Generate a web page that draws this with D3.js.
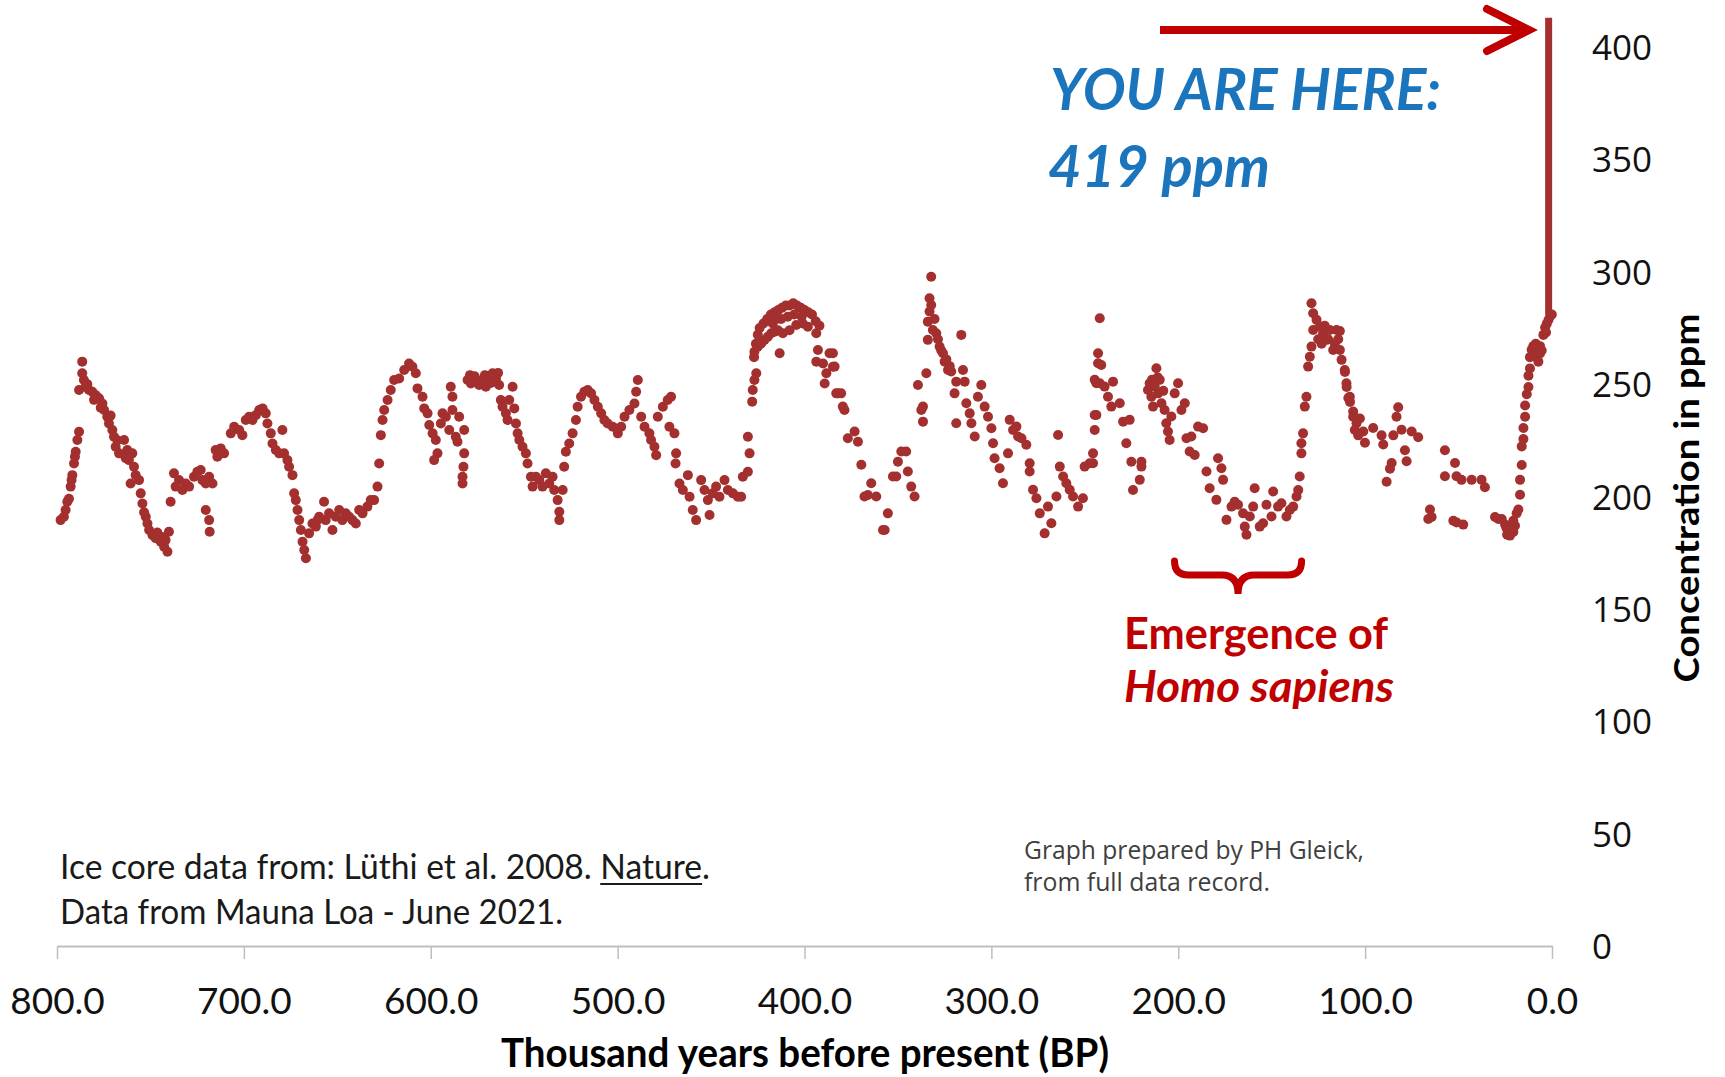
<!DOCTYPE html>
<html><head><meta charset="utf-8">
<script src="https://cdn.jsdelivr.net/npm/d3@7"></script>
<style>body{margin:0;background:#fff}svg{display:block}</style>
</head><body>
<svg id="chart" width="1725" height="1077"></svg>
<script>
// ---- data: [age (thousand years BP), CO2 (ppm)] ----
const cycle800to740 = [[798.1,189.5],[796.3,191],[795.4,194],[794.5,197.7],[793.6,199],[792.7,204.4],[792.2,207.3],[791.8,209.5],[790.9,214.7],[790.4,217.7],[790.0,219.9],[789.1,225.1],[788.2,228.8],[788.2,247.4],[786.5,260],[786.5,254.8],[785.6,251.8],[784.7,248.8],[783.8,250],[782.9,247.4],[781.1,246.6],[780.2,243],[779.3,245.1],[777.5,243.7],[776.6,239.5],[775.7,241.4],[774.8,238.5],[773.1,235.5],[772.2,232.5],[771.3,236],[770.4,229.6],[769.5,226.6],[768.6,222.1],[767.7,225],[766.8,219.2],[764.1,225.1],[763.2,217],[762.4,220.7],[761.5,216.2],[759.7,219.2],[758.8,213.2],[757.9,209.5],[760.6,205.8],[756.1,207.3],[755.2,201.4],[754.3,196.9],[753.4,193],[752.5,191],[751.6,188],[750.7,185.1],[748.9,182.8],[747.2,181.4],[746.3,184],[744.5,179.9],[743.6,182],[742.7,177.7],[740.9,175.4],[740.1,184.3],[741.9,180.6]];
const cycle740to660 = [[739.2,197.7],[737.4,210.3],[736.5,204.4],[734.7,207.3],[732.9,202.9],[731.1,205.8],[729.3,204.4],[726.7,208.8],[724.9,211],[723.1,211.8],[722.2,207.3],[720.4,205.8],[718.6,208.8],[716.8,205.8],[720.4,194],[718.6,189.5],[718.3,184.3],[715.1,220.7],[712.4,221.4],[710.6,219.2],[714.2,217.7],[707.0,228.1],[705.2,231],[702.5,229.6],[700.8,227.3],[699.0,234],[697.2,235.5],[695.4,234],[693.6,236.2],[691.8,238.5],[690.0,239.2],[688.3,237],[687.4,232.5],[685.6,228.1],[684.7,223.6],[682.9,220.7],[681.1,219.2],[679.4,229.6],[678.5,219.2],[676.7,216.2],[675.8,213.2],[674.0,209.5],[673.1,201.4],[672.2,198.4],[671.3,194],[670.4,189.5],[669.5,185.1],[668.6,179.9],[667.7,176.2],[666.8,172.5],[663.3,188],[660.6,189.5]];
const cycle665to520 = [[665.1,183.6],[661.5,186.6],[659.7,191],[657.1,197.7],[656.2,189.5],[654.4,192.5],[652.6,185.1],[650.8,191],[649.0,194],[647.3,189.5],[645.5,192.5],[643.7,191],[641.9,189.5],[640.1,188],[638.3,194],[636.5,192.5],[633.9,195.5],[632.1,198.4],[630.3,198.4],[628.5,204.4],[627.6,214.7],[626.7,227.3],[625.8,234],[624.9,238.5],[623.1,242.9],[621.4,247.4],[619.6,251.8],[616.9,252.5],[614.2,256.3],[611.6,259.2],[609.8,257.7],[608.0,254.8],[607.1,248.1],[604.4,244.4],[603.5,239.2],[601.7,237],[600.8,231.8],[599.0,228.1],[597.3,225.1],[598.2,216.2],[596.4,219.2],[594.6,232.5],[593.7,237],[591.9,235.5],[590.1,229.6],[589.3,248.8],[588.4,244.4],[586.6,226.6],[585.7,224.4],[588.4,238.5],[584.8,235.5],[582.1,229.6],[582.1,219.2],[582.5,213.2],[583.0,208.8],[583.0,205.8],[580.3,251.8],[579.0,254],[578.5,250.3],[577.6,252.5],[576.5,253.5],[575.8,251.1],[574.1,249.6],[572.3,251.8],[571.0,254],[570.5,248.8],[568.7,253.3],[567.8,250.5],[566.9,254.8],[565.1,252.5],[564.0,255],[563.4,249.6],[562.5,242.9],[561.6,239.9],[559.8,237],[558.9,234],[558.0,242.9],[556.2,248.8],[555.3,239.2],[554.4,232.5],[553.5,228.1],[552.6,225.1],[550.9,222.1],[549.1,219.2],[548.2,214.7],[546.4,208.8],[545.5,204.4],[543.7,208.8],[541.9,207.3],[540.2,204.4],[538.4,210.3],[536.6,205.8],[534.8,208.8],[533.9,202.9],[532.1,198.4],[531.2,193.2],[531.2,189.5],[529.4,202.9],[528.6,213.2],[527.7,219.9],[525.9,223.6],[524.1,228.1],[522.3,234],[521.4,239.9]];
const cycle520to426 = [[519.6,244.4],[517.8,246.6],[516.0,247.4],[514.2,245.9],[512.4,242.9],[510.6,239.9],[508.8,237],[507.1,234],[505.3,232.5],[502.6,231],[499.9,228.1],[498.1,231],[496.3,235.5],[493.7,238.5],[491.0,241.4],[490.1,246.6],[489.2,251.8],[487.4,235.5],[485.6,231],[483.0,228.1],[482.1,225.1],[480.3,222.1],[479.4,218.4],[478.5,235.5],[475.8,239.9],[473.2,242.9],[471.4,244.4],[472.3,231],[469.6,228.1],[468.7,219.2],[469.0,214.7],[466.9,205.8],[465.1,202.9],[462.4,209.5],[461.5,199.9],[459.8,194],[458.0,189.5],[455.3,207.3],[453.5,202.9],[451.7,198.4],[450.8,191.8],[449.1,201.4],[447.3,204.4],[445.5,199.9],[442.8,207.3],[441.0,202.9],[438.3,201.4],[435.7,199.9],[433.9,199.9],[433.0,208.8],[430.3,211],[429.4,219.2],[430.3,226.6],[428.0,242.2],[427.7,247.4],[426.8,251.8],[425.8,254.8]];
const cycle427to383 = [[427.0,262],[426.8,264.4],[426.0,268],[425.0,266.6],[425.0,272],[424.0,275],[423.2,268.1],[422.0,277],[421.4,269.6],[420.0,279],[419.6,271.1],[418.0,281],[417.8,272.6],[417.0,277],[416.0,282],[416.0,273.3],[415.0,279],[414.2,274],[414.0,283],[413.3,263.7],[412.5,279],[412.0,284],[411.6,272.6],[410.0,285],[409.0,280],[408.0,285],[408.0,274],[406.0,286],[405.5,281],[404.4,276.3],[404.0,285],[402.0,284],[401.5,280],[400.9,277],[400.0,283],[398.2,275.5],[398.0,282],[396.0,281],[394.0,278],[393.7,272.6],[392.8,265.2],[392.0,276],[393.7,260],[390.1,259.2],[388.3,254.8],[389.2,250.3],[386.6,263.7],[384.8,257.7],[383.0,245.9]];
const cycle385to242 = [[384.8,263.7],[383.9,257.8],[382.1,245.9],[380.4,245.9],[379.5,240],[378.6,238.5],[376.8,225.9],[373.2,228.9],[371.4,224.4],[369.6,214.1],[367.9,200],[366.1,200.7],[364.3,205.9],[361.6,200],[358.0,185.1],[357.1,185.1],[355.4,192.5],[352.7,208.9],[350.9,208.9],[350.0,215.5],[348.2,220],[345.6,220],[344.7,211.1],[342.9,204.4],[341.1,200],[339.3,249.6],[337.5,238.5],[336.6,240],[336.6,233.3],[334.8,254.8],[334.0,269.7],[334.0,277.8],[333.1,282.3],[333.1,288.2],[332.2,297.8],[332.2,285.2],[331.3,274.1],[330.4,279],[329.5,272.6],[328.6,270],[327.7,266.7],[326.8,265],[325.9,263.7],[325.0,260],[324.1,261],[323.2,256.3],[322.3,258],[321.5,255.6],[318.8,251.1],[319.7,245.9],[318.8,232.6],[316.1,271.9],[315.2,256.3],[314.3,251.1],[313.4,241.5],[311.6,237],[310.7,232.6],[308.9,226.7],[307.2,244.4],[305.4,249.6],[303.6,240],[301.8,235.5],[300.0,230.4],[299.1,223.7],[298.3,217],[295.6,212.6],[293.8,205.9],[291.1,219.2],[290.2,234.1],[288.4,229.6],[286.6,231.1],[285.7,226.7],[283.9,225.9],[281.3,223],[279.5,214.8],[279.5,211.1],[277.7,203],[275.9,199.2],[274.1,192.5],[271.5,183.6],[269.7,195.5],[267.9,188.1],[265.2,200],[264.3,227.4],[263.4,213.3],[261.6,208.9],[259.9,205.9],[258.1,203],[256.3,200],[253.6,195.5],[251.0,199.2],[250.1,213.3],[247.4,214.8],[245.6,219.2],[244.7,229.6],[243.8,236.3],[243.8,250.4],[242.9,259.3],[242.9,263.7],[242.0,279.3]];
const cycle245to104 = [[241.2,258.5],[244.7,251.9],[242.0,250.4],[239.4,248.9],[237.6,244.4],[235.8,240],[234.9,251.1],[231.3,241.5],[229.5,233.3],[226.0,234.1],[227.8,223.7],[225.1,215.5],[219.7,215.5],[219.7,213.3],[220.6,207.4],[224.2,202.9],[244.7,236.3],[245.6,214.8],[216.2,247.4],[215.3,250.4],[214.4,244.4],[214.0,252],[213.5,240],[212.6,249],[211.7,257.1],[211.0,253],[210.8,245.9],[209.9,251.9],[209.0,241.5],[208.0,247],[207.3,238.5],[206.4,232.6],[205.5,228.9],[204.6,225.1],[203.7,235.6],[201.9,245.9],[200.1,250.4],[198.3,238.5],[196.5,241.5],[195.6,225.9],[193.9,220],[193.0,226.7],[191.2,218.5],[189.4,231.1],[186.7,230.4],[184.9,211.1],[183.2,203.7],[179.6,198.5],[178.7,217],[176.9,212.6],[176.0,207.4],[174.2,189.6],[171.5,195.5],[169.8,197.7],[168.0,196.3],[165.3,192.5],[164.4,186.6],[163.5,183],[161.7,191.1],[159.9,195.5],[159.1,203.7],[156.4,186.6],[154.6,188.1],[152.8,196.3],[150.1,191.1],[149.2,202.2],[146.6,195.5],[144.8,197],[142.1,191.1],[140.3,194],[138.5,195.5],[136.7,200],[135.8,202.9],[135.0,208.9],[134.1,219.2],[134.1,223.7],[133.2,228.1],[132.3,240],[131.4,244.4],[130.5,257.8],[129.6,262.2],[128.7,266.7],[127.8,274.1],[128.7,286],[127.8,281.5],[126.0,278.6],[125.1,270],[124.2,275.6],[123.3,268],[122.5,272.6],[121.6,276],[120.7,269.7],[119.8,270],[118.9,274.1],[117.1,265.2],[116.2,268],[115.3,274.1],[114.4,270],[113.5,265.2],[112.6,260.8],[110.9,256.3],[110.0,250.4],[108.2,244.4],[106.4,237.8],[105.5,229.6],[104.6,232.6]];
const cycle114to0 = [[113.5,273.6],[110.8,255.4],[109.9,248.7],[109.0,243.8],[108.1,242.1],[106.4,235.5],[104.6,234.7],[102.8,234.7],[103.7,227.2],[101.0,228.9],[100.1,223.9],[95.7,230.5],[91.2,227.2],[90.3,223.1],[84.9,227.2],[83.2,235.5],[82.3,239.7],[80.5,229.7],[78.7,220.6],[77.8,215.7],[85.8,214.9],[86.7,212.4],[88.5,206.6],[75.1,228.9],[71.6,226.4],[65.3,194.2],[64.4,190.9],[66.2,190],[57.3,220.6],[57.3,209],[51.9,214.9],[51.1,209],[48.4,207.4],[43.0,207.4],[37.7,207.4],[35.9,204.1],[52.8,189.2],[51.0,188.4],[47.5,187.5],[30.5,190.9],[28.7,190],[26.9,190],[25.1,187.5],[24.3,185.9],[24.0,183],[23.4,184.2],[22.5,182.6],[22.0,185],[21.6,186],[20.7,184.2],[20.7,189.2],[19.8,187],[18.9,192.5],[18.0,194.2],[17.1,200.8],[17.1,207.4],[16.2,214],[16.2,222.3],[15.3,225.6],[15.3,230.5],[14.4,235.5],[14.4,240.5],[13.5,245.5],[12.6,248.7],[12.6,253.7],[11.8,257],[11.8,262],[10.9,265.3],[10.0,266.9],[9.1,264],[8.7,268],[8.2,262],[7.3,260],[6.4,263.6],[6.4,266.9],[5.5,265],[4.6,271.9],[3.7,275.2],[3.2,273],[2.8,276.9],[1.9,278.5],[1.0,280.2],[0.1,281]];
const maunaLoaRise = [[1.8,281],[1.8,413]];
const xTickValues = [800,700,600,500,400,300,200,100,0];
const yTickValues = [0,50,100,150,200,250,300,350,400];
const bracketRange = [202, 134]; // thousand years BP

// ---- drawing ----
const W = 1725, H = 1077;
const dotColor = "#a3302f", annotRed = "#c00000", blue = "#1b75bc";
const svg = d3.select("#chart");
svg.append("rect").attr("width",W).attr("height",H).attr("fill","#fff");

const x = d3.scaleLinear().domain([800,0]).range([57,1552]);
const y = d3.scaleLinear().domain([0,400]).range([946,47]);

// x axis
const gx = svg.append("g").attr("transform",`translate(0,${y(0)})`)
  .call(d3.axisBottom(x).tickValues(xTickValues).tickFormat(d=>d.toFixed(1)).tickSizeInner(13).tickSizeOuter(0));
gx.select(".domain").attr("stroke","#bfbfbf").attr("stroke-width",2);
gx.selectAll(".tick line").attr("stroke","#bfbfbf").attr("stroke-width",1.5);
gx.selectAll(".tick text").attr("y",68).attr("dy",0)
  .attr("font-family","Lato").attr("font-size",37).attr("fill","#111");

// y axis (labels only, on the right)
const gy = svg.append("g").attr("transform","translate(1592,0)")
  .call(d3.axisRight(y).tickValues(yTickValues).tickSize(0).tickPadding(0));
gy.select(".domain").remove();
gy.selectAll(".tick text").attr("font-family","Open Sans").attr("font-size",35).attr("fill","#111").attr("dy","0.36em");

// axis titles
svg.append("text").attr("x",805).attr("y",1067).attr("text-anchor","middle")
  .attr("font-family","Lato").attr("font-weight",700).attr("font-size",40).attr("fill","#000")
  .attr("textLength",608).attr("lengthAdjust","spacingAndGlyphs")
  .text("Thousand years before present (BP)");
svg.append("text").attr("transform","translate(1699,498) rotate(-90)").attr("text-anchor","middle")
  .attr("font-family","Lato").attr("font-weight",700).attr("font-size",35).attr("fill","#000")
  .attr("textLength",369).attr("lengthAdjust","spacingAndGlyphs")
  .text("Concentration in ppm");

// modern rise
svg.append("path").datum(maunaLoaRise)
  .attr("d", d3.line().x(d=>x(d[0])).y(d=>y(d[1])))
  .attr("stroke",dotColor).attr("stroke-width",7).attr("fill","none");

// ice core dots
const allPoints = [].concat(cycle800to740, cycle740to660, cycle665to520, cycle520to426,
  cycle427to383, cycle385to242, cycle245to104, cycle114to0);
svg.append("g").selectAll("circle").data(allPoints).join("circle")
  .attr("cx",d=>x(d[0])).attr("cy",d=>y(d[1])).attr("r",5).attr("fill",dotColor);

// arrow
const arrowY = 30;
svg.append("line").attr("x1",1160).attr("x2",1524).attr("y1",arrowY).attr("y2",arrowY)
  .attr("stroke",annotRed).attr("stroke-width",8);
svg.append("polyline").attr("points",`1487,${arrowY-21} 1529,${arrowY} 1487,${arrowY+21}`)
  .attr("fill","none").attr("stroke",annotRed).attr("stroke-width",8).attr("stroke-linejoin","miter").attr("stroke-linecap","round");

// YOU ARE HERE
svg.append("text").attr("x",1050).attr("y",110)
  .attr("font-family","Lato").attr("font-weight",700).attr("font-style","italic").attr("font-size",58).attr("fill",blue)
  .attr("textLength",391).attr("lengthAdjust","spacingAndGlyphs").text("YOU ARE HERE:");
svg.append("text").attr("x",1048).attr("y",187)
  .attr("font-family","Lato").attr("font-weight",700).attr("font-style","italic").attr("font-size",58).attr("fill",blue)
  .attr("textLength",222).attr("lengthAdjust","spacingAndGlyphs").text("419 ppm");

// brace
const bx0 = x(bracketRange[0]), bx1 = x(bracketRange[1]), bm = (bx0+bx1)/2;
const bTop = 561, bArm = 575, bTip = 594;
svg.append("path")
  .attr("d",`M${bx0},${bTop} Q${bx0},${bArm} ${bx0+14},${bArm} L${bm-16},${bArm} Q${bm},${bArm} ${bm},${bTip} Q${bm},${bArm} ${bm+16},${bArm} L${bx1-14},${bArm} Q${bx1},${bArm} ${bx1},${bTop}`)
  .attr("fill","none").attr("stroke",annotRed).attr("stroke-width",7).attr("stroke-linecap","round");
svg.append("text").attr("x",1124).attr("y",649)
  .attr("font-family","Lato").attr("font-weight",700).attr("font-size",43).attr("fill",annotRed)
  .attr("textLength",264).attr("lengthAdjust","spacingAndGlyphs").text("Emergence of");
svg.append("text").attr("x",1124).attr("y",702)
  .attr("font-family","Lato").attr("font-weight",700).attr("font-style","italic").attr("font-size",43).attr("fill",annotRed)
  .attr("textLength",270).attr("lengthAdjust","spacingAndGlyphs").text("Homo sapiens");

// sources
const src1Text = "Ice core data from: Lüthi et al. 2008. Nature.";
const src1 = svg.append("text").attr("x",60).attr("y",879)
  .attr("font-family","Lato").attr("font-size",35).attr("fill","#1a1a1a")
  .attr("textLength",650).attr("lengthAdjust","spacingAndGlyphs").text(src1Text);
{
  const node = src1.node(), i0 = src1Text.indexOf("Nature");
  const ux0 = node.getStartPositionOfChar(i0).x, ux1 = node.getEndPositionOfChar(i0 + 5).x;
  svg.append("line").attr("x1",ux0).attr("x2",ux1).attr("y1",884).attr("y2",884)
    .attr("stroke","#1a1a1a").attr("stroke-width",2);
}
svg.append("text").attr("x",60).attr("y",924)
  .attr("font-family","Lato").attr("font-size",35).attr("fill","#1a1a1a")
  .attr("textLength",503).attr("lengthAdjust","spacingAndGlyphs").text("Data from Mauna Loa - June 2021.");
svg.append("text").attr("x",1024).attr("y",859)
  .attr("font-family","Open Sans").attr("font-size",25).attr("fill","#404040")
  .attr("textLength",340).attr("lengthAdjust","spacingAndGlyphs").text("Graph prepared by PH Gleick,");
svg.append("text").attr("x",1024).attr("y",891)
  .attr("font-family","Open Sans").attr("font-size",25).attr("fill","#404040")
  .attr("textLength",246).attr("lengthAdjust","spacingAndGlyphs").text("from full data record.");
</script>
</body></html>
